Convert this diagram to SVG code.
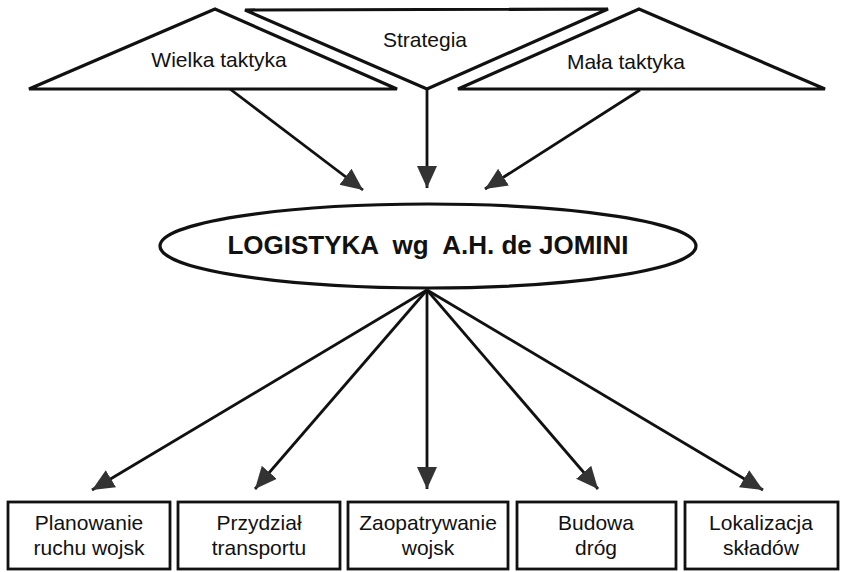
<svg xmlns="http://www.w3.org/2000/svg" width="841" height="572" viewBox="0 0 841 572">
  <defs>
    <style>
      .shape { fill: #fff; stroke: #111; stroke-width: 3.2; stroke-linejoin: miter; }
      .box { fill: #fff; stroke: #111; stroke-width: 2.8; }
      .lbl { font-family: "Liberation Sans", Arial, sans-serif; font-size: 21px; fill: #111; text-anchor: middle; }
      .title { font-family: "Liberation Sans", Arial, sans-serif; font-size: 26px; font-weight: bold; fill: #111; text-anchor: middle; white-space: pre; }
      .conn { stroke: #111; stroke-width: 2.8; fill: none; marker-end: url(#head); }
    </style>
    <marker id="head" markerUnits="userSpaceOnUse" markerWidth="23" markerHeight="21" refX="22" refY="10" orient="auto">
      <path d="M0,0 L22,10 L0,20 Z" fill="#333"/>
    </marker>
  </defs>

  <rect width="841" height="572" fill="#fff"/>

  <!-- upper level: three triangles -->
  <g id="wielka-taktyka">
    <polygon class="shape" points="29,89 215,9 397,89"/>
    <text class="lbl" x="219" y="67">Wielka taktyka</text>
  </g>
  <g id="strategia">
    <polygon class="shape" points="245,10 608,9 427,89"/>
    <text class="lbl" x="425" y="47">Strategia</text>
  </g>
  <g id="mala-taktyka">
    <polygon class="shape" points="458,89 639,9 825,89"/>
    <text class="lbl" x="626" y="69">Mała taktyka</text>
  </g>

  <!-- central node -->
  <g id="logistyka">
    <ellipse class="shape" cx="428" cy="246" rx="268" ry="42" stroke-width="2.8"/>
    <text class="title" x="428" y="254">LOGISTYKA  wg  A.H. de JOMINI</text>
  </g>

  <!-- lower level: five tasks -->
  <g id="planowanie">
    <rect class="box" x="8" y="502" width="162" height="67"/>
    <text class="lbl" x="89" y="530">Planowanie</text>
    <text class="lbl" x="89" y="555">ruchu wojsk</text>
  </g>
  <g id="przydzial">
    <rect class="box" x="178" y="502" width="162" height="67"/>
    <text class="lbl" x="259" y="530">Przydział</text>
    <text class="lbl" x="259" y="555">transportu</text>
  </g>
  <g id="zaopatrywanie">
    <rect class="box" x="348" y="502" width="160" height="67"/>
    <text class="lbl" x="428" y="530">Zaopatrywanie</text>
    <text class="lbl" x="428" y="555">wojsk</text>
  </g>
  <g id="budowa">
    <rect class="box" x="517" y="502" width="159" height="67"/>
    <text class="lbl" x="596" y="530">Budowa</text>
    <text class="lbl" x="596" y="555">dróg</text>
  </g>
  <g id="lokalizacja">
    <rect class="box" x="685" y="502" width="153" height="67"/>
    <text class="lbl" x="761" y="530">Lokalizacja</text>
    <text class="lbl" x="761" y="555">składów</text>
  </g>

  <!-- connectors -->
  <g id="connectors">
    <line class="conn" x1="230" y1="89" x2="363" y2="190"/>
    <line class="conn" x1="427" y1="89" x2="427" y2="188"/>
    <line class="conn" x1="640" y1="90" x2="485" y2="189"/>
    <line class="conn" x1="427" y1="290" x2="92" y2="490"/>
    <line class="conn" x1="427" y1="290" x2="255" y2="489"/>
    <line class="conn" x1="427" y1="290" x2="427" y2="489"/>
    <line class="conn" x1="427" y1="290" x2="598" y2="489"/>
    <line class="conn" x1="427" y1="290" x2="763" y2="490"/>
  </g>
</svg>
